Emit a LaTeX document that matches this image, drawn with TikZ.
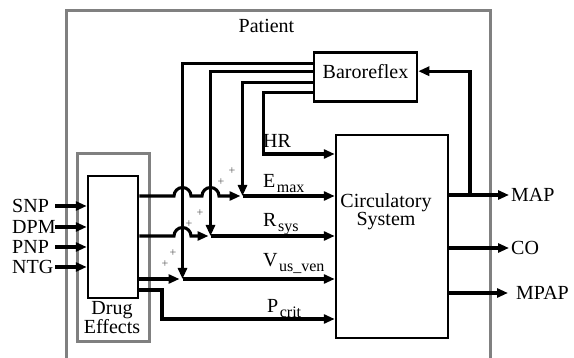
\documentclass[tikz,border=0pt]{standalone}
\usepackage{fontspec}
\setmainfont{Liberation Serif}
\usetikzlibrary{arrows.meta,positioning,calc}
\newcommand{\lowsub}[1]{\kern1.5pt\raisebox{-5pt}{\fontsize{16}{16}\selectfont #1}}

\begin{document}
\begin{tikzpicture}[x=1pt, y=1pt, font=\fontsize{20}{20}\selectfont,
    blk/.style={draw, line width=2.5pt, inner sep=0pt},
    arr/.style={-{Triangle[length=11pt, width=9pt]}, line width=3.1pt},
    region/.style={draw=black!50, line width=3pt},
    io/.style={inner sep=0pt},
    sig/.style={inner sep=0pt, anchor=base west},
    plus/.style={font=\fontsize{12}{12}\selectfont, text=black!65, inner sep=0pt},
]
\useasboundingbox (0,0) rectangle (574,358);

% Patient frame
\draw[region] (66,0) -- (66,347) -- (490,347) -- (490,0);
\node[io, anchor=base] (patient) at (266.5,325) {Patient};

% Drug Effects
\node[blk, minimum width=50pt, minimum height=122pt] (drug) at (113,121) {};
\node[io, align=center, font=\fontsize{20}{19}\selectfont] (drugtxt) at (112,40) {Drug\\Effects};
\node[region, minimum width=72pt, minimum height=188pt] (druggrp) at (113,110) {};

% Baroreflex and circulatory system
\node[blk, minimum width=103pt, minimum height=49pt, text depth=11pt] (baro) at (365.5,280.8) {Baroreflex};
\node[blk, minimum width=112pt, minimum height=203pt] (circ) at (392,121.5) {};
\node[io, anchor=north, align=center, font=\fontsize{20}{18.5}\selectfont] (circtxt) at (386,165) {Circulatory\\System};

% Drug inputs
\foreach \name/\txt/\y in {snp/SNP/152, dpm/DPM/131, pnp/PNP/111, ntg/NTG/91} {
  \node[io, anchor=west, text width=43pt] (\name) at (12,\y) {\txt};
  \draw[arr] (\name.east) -- (\name.east -| drug.west);
}

% summing points
\coordinate (jE) at (242.5,162);
\coordinate (jR) at (210.5,122);
\coordinate (jV) at (182.5,79);
\coordinate (hrk) at (263.5,204);
\coordinate (pk) at (162,39);
\coordinate (tap) at (470,163);

% Baroreflex outputs
\draw[arr] ([yshift=14pt]baro.west) -| (jV);
\draw[arr] ([yshift=6pt]baro.west) -| (jR);
\draw[arr] ([yshift=-5pt]baro.west) -| (jE);
\draw[arr] ([yshift=-15pt]baro.west) -| (hrk) -- (hrk -| circ.west);

% Drug outputs
\draw[arr, shorten >=2pt] (drug.east |- jE) -- (174,162) arc[start angle=180, end angle=0, radius=8.5]
  -- (202,162) arc[start angle=180, end angle=0, radius=8.5] -- (jE);
\draw[arr] (jE) -- (jE -| circ.west);
\draw[arr, shorten >=2pt] (drug.east |- jR) -- (174,122) arc[start angle=180, end angle=0, radius=8.5] -- (jR);
\draw[arr] (jR) -- (jR -| circ.west);
\draw[arr, shorten >=3pt] (drug.east |- jV) -- (jV);
\draw[arr] (jV) -- (jV -| circ.west);
\draw[arr] ([yshift=-53pt]drug.east) -| (pk) -- (pk -| circ.west);

% Signal names
\node[sig] (hr) at (263,210) {HR};
\node[sig] (emax) at (263,170) {E\lowsub{max}};
\node[sig] (rsys) at (263,131) {R\lowsub{sys}};
\node[sig] (vus) at (263,91) {V\lowsub{us\_ven}};
\node[sig] (pcrit) at (267,45) {P\lowsub{crit}};
\foreach \x/\y [count=\i] in {221/176, 232/187, 189/134, 200/145, 165/94, 173/105}
  \node[plus] (plus\i) at (\x,\y) {+};

% Outputs
\node[io, anchor=west, inner sep=2pt] (map) at (509,163) {MAP};
\node[io, anchor=west, inner sep=2pt] (co) at (509,110) {CO};
\node[io, anchor=west, inner sep=2pt] (mpap) at (514,65) {MPAP};
\draw[arr] (circ.east |- map) -- (map.west);
\draw[arr] (circ.east |- co) -- (co.west);
\draw[arr] (circ.east |- mpap) -- ([xshift=-6pt]mpap.west);
\draw[arr] (tap) |- ([yshift=6pt]baro.east);
\end{tikzpicture}
\end{document}
